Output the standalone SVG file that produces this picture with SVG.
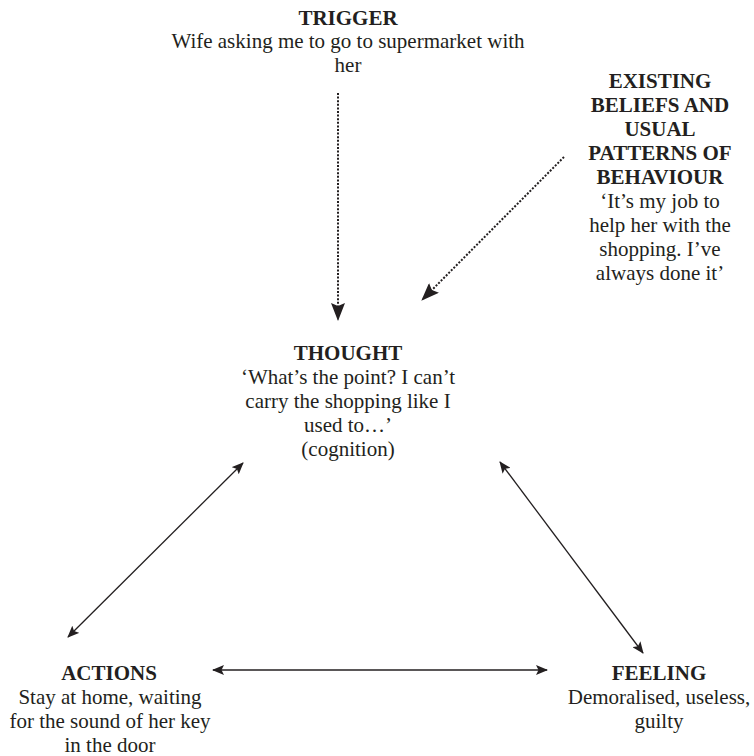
<svg xmlns="http://www.w3.org/2000/svg" width="754" height="756" viewBox="0 0 754 756">
<defs>
<style>
text{font-family:"Liberation Serif","Times New Roman",serif;font-size:21px;fill:#231f20;text-anchor:middle}
.b{font-weight:bold}
.s{stroke:#231f20;stroke-width:1.3;fill:none}
.d{stroke:#231f20;stroke-width:2;stroke-dasharray:2 1.6;fill:none}
</style>
<marker id="a" viewBox="0 0 12 10" refX="11" refY="5" markerWidth="12" markerHeight="10" markerUnits="userSpaceOnUse" orient="auto-start-reverse">
<path d="M0,0 L12,5 L0,10 L2.5,5 z" fill="#231f20"/>
</marker>
<marker id="A" viewBox="0 0 18 14" refX="17" refY="7" markerWidth="18" markerHeight="14" markerUnits="userSpaceOnUse" orient="auto">
<path d="M0,0 L18,7 L0,14 L3,7 z" fill="#231f20"/>
</marker>
</defs>
<rect width="754" height="756" fill="#fff"/>
<g id="connectors">
<line class="d" x1="338" y1="93" x2="338" y2="320" marker-end="url(#A)"/>
<line class="d" x1="564" y1="157" x2="422" y2="300" marker-end="url(#A)"/>
<line class="s" x1="243" y1="463" x2="68" y2="637" marker-start="url(#a)" marker-end="url(#a)"/>
<line class="s" x1="500" y1="462" x2="643" y2="653" marker-start="url(#a)" marker-end="url(#a)"/>
<line class="s" x1="213" y1="670" x2="547" y2="670" marker-start="url(#a)" marker-end="url(#a)"/>
</g>
<g id="trigger">
<text class="b" x="348" y="25">TRIGGER</text>
<text x="348" y="48">Wife asking me to go to supermarket with</text>
<text x="348" y="72">her</text>
</g>
<g id="beliefs">
<text class="b" x="660" y="88">EXISTING</text>
<text class="b" x="660" y="112">BELIEFS AND</text>
<text class="b" x="660" y="136">USUAL</text>
<text class="b" x="660" y="160">PATTERNS OF</text>
<text class="b" x="660" y="184">BEHAVIOUR</text>
<text x="660" y="208">‘It’s my job to</text>
<text x="660" y="232">help her with the</text>
<text x="660" y="256">shopping. I’ve</text>
<text x="660" y="280">always done it’</text>
</g>
<g id="thought">
<text class="b" x="348" y="360">THOUGHT</text>
<text x="348" y="384">‘What’s the point? I can’t</text>
<text x="348" y="408">carry the shopping like I</text>
<text x="348" y="432">used to…’</text>
<text x="348" y="456">(cognition)</text>
</g>
<g id="actions">
<text class="b" x="109" y="680">ACTIONS</text>
<text x="110" y="704">Stay at home, waiting</text>
<text x="110" y="728">for the sound of her key</text>
<text x="110" y="752">in the door</text>
</g>
<g id="feeling">
<text class="b" x="659" y="680">FEELING</text>
<text x="659" y="704">Demoralised, useless,</text>
<text x="659" y="728">guilty</text>
</g>
</svg>
